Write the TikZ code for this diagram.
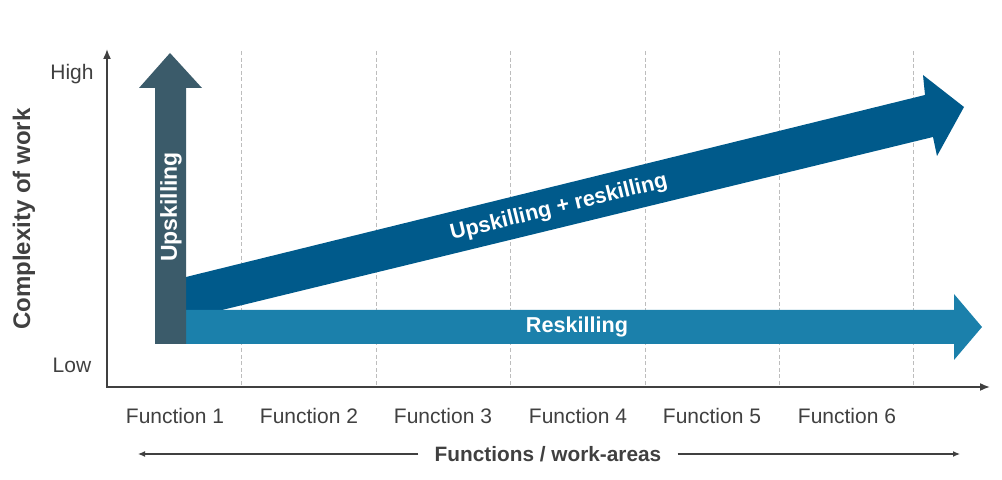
\documentclass[tikz,border=0pt]{standalone}
\usepackage{fontspec}
\setmainfont{Liberation Sans}
\usetikzlibrary{arrows.meta}
\definecolor{inkc}{HTML}{404040}
\definecolor{upc}{HTML}{3B5B6A}
\definecolor{bothc}{HTML}{005A8B}
\definecolor{reskc}{HTML}{1B80AB}
\definecolor{gridc}{HTML}{BDBDBD}
\begin{document}
\begin{tikzpicture}[x=0.5pt, y=-0.5pt,
      font=\fontsize{10.5}{12}\selectfont,
      lbl/.style={text=inkc, inner sep=0pt},
      inarr/.style={text=white, font=\fontsize{10.8}{12}\selectfont\bfseries, inner sep=0pt},
      axis/.style={draw=inkc, line width=0.8pt},
      grid/.style={draw=gridc, line width=0.5pt, dash pattern=on 2pt off 1.3pt},
      arr/.style={-{Latex[length=3.5pt, width=3pt]}, draw=inkc, line width=0.6pt}]
    \useasboundingbox (0,0) rectangle (1002,480);
    % axes
    \coordinate (origin) at (107,387);
    \coordinate (ytop) at (107,49);
    \coordinate (xend) at (990,387);
    % vertical guides
    \foreach \gx in {241,376,510,645,779,913}
      \draw[grid] (\gx,51) -- (\gx,387);
    \draw[axis, {Latex[length=5pt, width=4pt]}-{Latex[length=5pt, width=4pt]}] (ytop) -- (origin) -- (xend);
    % arrows
    \fill[bothc] (186,277) -- (925,95) -- (923,75) -- (964,107) -- (937,156)
      -- (933,137) -- (222,310) -- (186,310) -- cycle;
    \fill[reskc] (186,310) -- (954,310) -- (954,294) -- (982,327) -- (954,360)
      -- (954,344) -- (186,344) -- cycle;
    \fill[upc] (155,344) -- (155,88) -- (139,88) -- (170,53) -- (202,88)
      -- (186,88) -- (186,344) -- cycle;
    \node[inarr, rotate=13.8] (both) at (559,208) {Upskilling + reskilling};
    \node[inarr] (resk) at (577,327) {Reskilling};
    \node[inarr, rotate=90, font=\fontsize{11.5}{12}\selectfont\bfseries] (upsk) at (171,207) {Upskilling};
    % axis labels
    \node[lbl] (high) at (72,74) {High};
    \node[lbl] (low) at (72,365) {Low};
    \node[lbl, rotate=90, font=\fontsize{12}{14}\selectfont\bfseries] (cplx) at (24,219) {Complexity of work};
    \foreach \i/\fx in {1/175,2/309,3/443,4/578,5/712,6/847}
      \node[lbl] (f\i) at (\fx,416) {Function \i};
    \node[lbl, font=\fontsize{10.4}{12}\selectfont\bfseries] (fwa) at (548,454) {Functions / work-areas};
    \coordinate (lend) at (138,454);
    \coordinate (rend) at (960,454);
    \draw[arr] ([xshift=-8pt]fwa.west) -- (lend);
    \draw[arr] ([xshift=8pt]fwa.east) -- (rend);
  \end{tikzpicture}
\end{document}
